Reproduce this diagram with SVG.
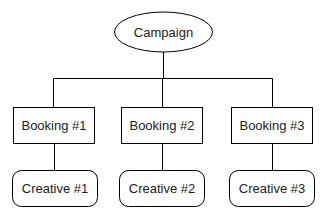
<svg xmlns="http://www.w3.org/2000/svg" width="325" height="218" viewBox="0 0 325 218">
<style>
.s{fill:#fff;stroke:#000;stroke-width:1}
.t{font-family:"Liberation Sans",Arial,sans-serif;font-size:13px;fill:#222;text-anchor:middle;dominant-baseline:central}
.c{fill:none;stroke:#000;stroke-width:1}
</style>
<rect width="325" height="218" fill="#fff"/>
<g id="connectors" class="c">
<path d="M163.5 52V78.5M53.5 78.5H272.5M53.5 78.5V107M162.5 78.5V107M272.5 78.5V107"/>
<path d="M54.5 143V170M162.5 143V170M272.5 143V170"/>
</g>
<g id="campaign"><ellipse class="s" cx="163.5" cy="32" rx="49" ry="20"/><text class="t" x="163.5" y="32">Campaign</text></g>
<g id="booking1"><rect class="s" x="13.5" y="107.5" width="81" height="36"/><text class="t" x="54" y="125">Booking #1</text></g>
<g id="booking2"><rect class="s" x="121.5" y="107.5" width="81" height="36"/><text class="t" x="162" y="125">Booking #2</text></g>
<g id="booking3"><rect class="s" x="231.5" y="107.5" width="81" height="36"/><text class="t" x="272" y="125">Booking #3</text></g>
<g id="creative1"><rect class="s" x="12.5" y="170.5" width="85" height="36" rx="9"/><text class="t" x="55" y="188.5">Creative #1</text></g>
<g id="creative2"><rect class="s" x="119.5" y="170.5" width="85" height="36" rx="9"/><text class="t" x="162" y="188.5">Creative #2</text></g>
<g id="creative3"><rect class="s" x="229.5" y="170.5" width="85" height="36" rx="9"/><text class="t" x="272" y="188.5">Creative #3</text></g>
</svg>
